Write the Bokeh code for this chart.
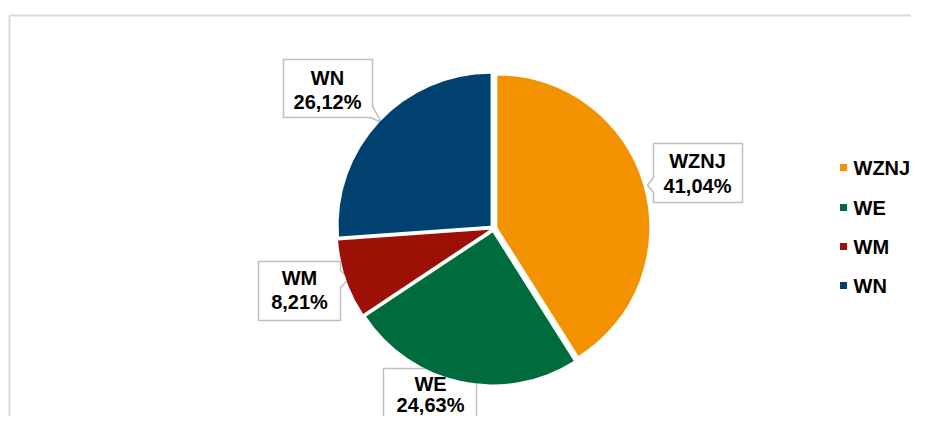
import numpy as np
from bokeh.plotting import figure
from bokeh.models import Range1d, ColumnDataSource
from bokeh.core.properties import value
from bokeh.embed import file_html
from bokeh.resources import INLINE

# ---- data ----
categories = ["WZNJ", "WE", "WM", "WN"]
shares = [41.04, 24.63, 8.21, 26.12]
colors = ["#F39200", "#006B3C", "#9C1006", "#004170"]

# ---- layout (picture px -> data: x = sx, y = H - sy) ----
W, H = 911, 416
def Y(sy):
    return H - sy

p = figure(width=W, height=H, x_range=Range1d(0, W), y_range=Range1d(0, H),
           output_backend="svg", toolbar_location=None, min_border=0)
p.axis.visible = False
p.grid.visible = False
p.outline_line_color = None
p.background_fill_color = "white"
p.border_fill_color = "white"

# chart area border (top and left visible)
p.line(x=[9, W], y=[Y(15), Y(15)], line_color="#d9d9d9", line_width=2)
p.line(x=[9, 9], y=[Y(15), Y(H + 5)], line_color="#d9d9d9", line_width=2)

font = value("Liberation Sans")
FS = "20px"

# ---- callout boxes (drawn first; pie may overlap) ----
box_shapes = {
    "WZNJ": [(653, 143), (742, 143), (742, 202), (653, 202), (653, 192), (647, 185), (653, 177)],
    "WE": [(383, 368), (476, 368), (476, 440), (383, 440)],
    "WM": [(258, 261), (340, 261), (340, 270), (349, 278), (340, 287), (340, 320), (258, 320)],
    "WN": [(283, 59), (372, 59), (372, 106), (381, 122), (370, 117), (283, 117)],
}
for cat in categories:
    pts = box_shapes[cat]
    p.patch(x=[q[0] for q in pts], y=[Y(q[1]) for q in pts], fill_color="white",
            line_color="#bfbfbf", line_width=1.5)

# ---- pie ----
cx, cy, r, d = 493, Y(228), 152, 4.0
vals = np.array(shares, dtype=float)
frac = vals / vals.sum()
cum = np.concatenate([[0], np.cumsum(frac)])
start = np.pi / 2 - cum[:-1] * 2 * np.pi
end = np.pi / 2 - cum[1:] * 2 * np.pi
mid = (start + end) / 2
src = ColumnDataSource(dict(
    x=cx + d * np.cos(mid), y=cy + d * np.sin(mid),
    start=start, end=end, color=colors, cat=categories))
p.wedge(x="x", y="y", radius=r, start_angle="start", end_angle="end",
        direction="clock", fill_color="color", line_color=None, source=src)

# ---- labels ----
text_pos = {"WZNJ": (697, 160, 185), "WE": (430, 383, 404),
            "WM": (299, 277, 301), "WN": (327, 77, 101)}
labels_pct = [("%.2f" % v).replace(".", ",") + "%" for v in shares]
tx = [text_pos[c][0] for c in categories]
ty1 = [Y(text_pos[c][1]) for c in categories]
ty2 = [Y(text_pos[c][2]) for c in categories]
p.text(x=tx, y=ty1, text=categories, text_font=font, text_font_style="bold",
       text_font_size=FS, text_align="center", text_baseline="middle", text_color="black")
p.text(x=tx, y=ty2, text=labels_pct, text_font=font, text_font_style="bold",
       text_font_size=FS, text_align="center", text_baseline="middle", text_color="black")

# ---- legend ----
leg_c = [167, 207, 246, 285]
p.scatter(x=[843] * 4, y=[Y(v) for v in leg_c], marker="square", size=7,
          fill_color=colors, line_color=None)
p.text(x=[853] * 4, y=[Y(v) for v in leg_c], text=categories, text_font=font,
       text_font_style="bold", text_font_size=FS, text_align="left",
       text_baseline="middle", text_color="black")

open("out.html", "w").write(file_html(p, INLINE))
